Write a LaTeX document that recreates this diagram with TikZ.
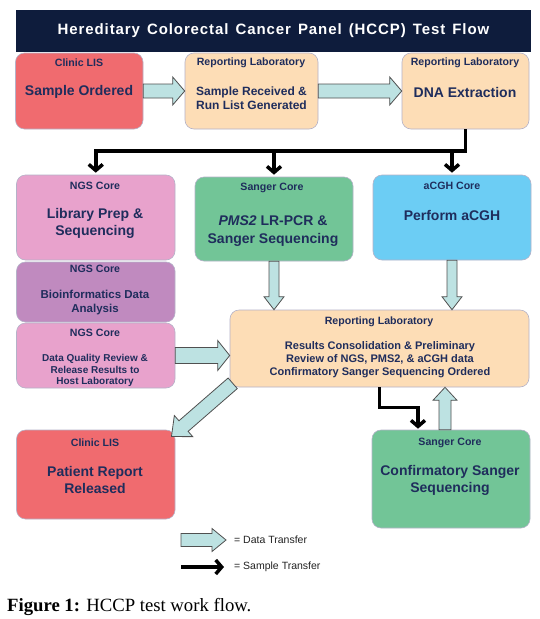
\documentclass[tikz,border=0pt]{standalone}
\usepackage{fontspec}
\setmainfont{Liberation Sans}
\newfontfamily\capfont{Liberation Serif}
\newfontfamily\titlefont[LetterSpace=6,WordSpace=1.4]{Liberation Sans}
\usetikzlibrary{calc,arrows.meta}
\definecolor{navy}{HTML}{1F2D5C}
\definecolor{titlebg}{HTML}{0E1C3C}
\definecolor{clinicred}{HTML}{F06B6F}
\definecolor{peach}{HTML}{FDDDB6}
\definecolor{ngspink}{HTML}{E8A2CC}
\definecolor{ngspurple}{HTML}{C08ABF}
\definecolor{sangergreen}{HTML}{72C597}
\definecolor{acghblue}{HTML}{6CCDF4}
\definecolor{boxline}{HTML}{B4B2C8}
\definecolor{arrowfill}{HTML}{BDE2E2}
\definecolor{arrowline}{HTML}{505050}
\definecolor{legendtext}{HTML}{222222}
\tikzset{
  box/.style={draw=boxline, line width=0.6pt, rounded corners=9pt, inner sep=0pt},
  hdr/.style={text=navy, font=\fontsize{10.6}{12}\selectfont\bfseries, inner sep=0pt},
  ttl/.style={text=navy, font=\fontsize{14}{17}\selectfont\bfseries, align=center, inner sep=0pt},
  sampleflow/.style={line width=3.5pt, line join=miter, -{Straight Barb[length=6pt,width=14pt]}},
  dataflow/.style={draw=arrowline, fill=arrowfill, line width=0.8pt, line join=miter},
}
\newcommand\blockarrow[5]{%
  \path #4; \pgfgetlastxy{\bax}{\bay}%
  \path #5; \pgfgetlastxy{\bbx}{\bby}%
  \pgfmathsetmacro\baang{atan2(\bby-\bay,\bbx-\bax)}%
  \pgfmathsetmacro\balen{veclen(\bbx-\bax,\bby-\bay)}%
  \draw[dataflow, shift={(\bax,\bay)}, rotate=\baang]
    (0pt,#1pt) -- (\balen pt-#3pt,#1pt) -- (\balen pt-#3pt,#2pt) -- (\balen pt,0pt)
    -- (\balen pt-#3pt,-#2pt) -- (\balen pt-#3pt,-#1pt) -- (0pt,-#1pt) -- cycle;%
}
\begin{document}
\begin{tikzpicture}[x=1pt,y=-1pt]
\fill[white] (0,0) rectangle (540,619);
\useasboundingbox (0,0) rectangle (540,619);

% title bar
\node[fill=titlebg, minimum width=515.5pt, minimum height=42pt, inner sep=0pt] (title) at (273.25,31) {};
\node[text=white, font=\titlefont\fontsize{15}{17}\selectfont\bfseries, inner sep=0pt] (titletext) at (273.5,31) {Hereditary Colorectal Cancer Panel (HCCP) Test Flow};

% row 1
\node[box, fill=clinicred, minimum width=127.5pt, minimum height=76pt] (clinic) at (79.25,91) {};
\node[hdr] (clinichdr) at (79,63) {Clinic LIS};
\node[ttl] (clinicttl) at (79,92) {Sample Ordered};

\node[box, fill=peach, minimum width=133pt, minimum height=76pt] (rl1) at (251.5,91) {};
\node[hdr] (rl1hdr) at (251,63) {Reporting Laboratory};
\node[ttl, align=left, font=\fontsize{12}{14}\selectfont\bfseries] (rl1ttl) at (251.5,98) {Sample Received \&\\Run List Generated};

\node[box, fill=peach, minimum width=127pt, minimum height=76pt] (dna) at (465.5,91) {};
\node[hdr] (dnahdr) at (465,63) {Reporting Laboratory};
\node[ttl] (dnattl) at (465,92) {DNA Extraction};

% row 2
\node[box, fill=ngspink, minimum width=158.5pt, minimum height=85pt] (ngs1) at (95.75,217.5) {};
\node[hdr] (ngs1hdr) at (95,186) {NGS Core};
\node[ttl] (ngs1ttl) at (95,223.5) {Library Prep \&\\Sequencing};

\node[box, fill=sangergreen, minimum width=158pt, minimum height=84pt] (sanger) at (274,219) {};
\node[hdr] (sangerhdr) at (272,188) {Sanger Core};
\node[ttl, font=\fontsize{14}{18}\selectfont\bfseries] (sangerttl) at (273,231) {\textit{PMS2} LR-PCR \&\\Sanger Sequencing};

\node[box, fill=acghblue, minimum width=158pt, minimum height=85pt] (acgh) at (452,217.5) {};
\node[hdr] (acghhdr) at (452,186) {aCGH Core};
\node[ttl] (acghttl) at (452,215) {Perform aCGH};

\node[box, fill=ngspurple, minimum width=158.5pt, minimum height=60pt] (ngs2) at (95.75,292) {};
\node[hdr] (ngs2hdr) at (95,269) {NGS Core};
\node[ttl, font=\fontsize{11.5}{14}\selectfont\bfseries] (ngs2ttl) at (95,303) {Bioinformatics Data\\Analysis};

\node[box, fill=ngspink, minimum width=158.5pt, minimum height=65pt] (ngs3) at (95.75,355.5) {};
\node[hdr] (ngs3hdr) at (95,333) {NGS Core};
\node[ttl, font=\fontsize{10}{11.5}\selectfont\bfseries] (ngs3ttl) at (95,370.5) {Data Quality Review \&\\Release Results to\\Host Laboratory};

\node[box, fill=peach, minimum width=299pt, minimum height=77pt] (rl2) at (379.5,348.5) {};
\node[hdr] (rl2hdr) at (379,322) {Reporting Laboratory};
\node[ttl, font=\fontsize{11}{13}\selectfont\bfseries] (rl2ttl) at (380,360) {Results Consolidation \& Preliminary\\Review of NGS, PMS2, \& aCGH data\\Confirmatory Sanger Sequencing Ordered};

\node[box, fill=clinicred, minimum width=158.5pt, minimum height=89pt] (patient) at (95.75,474.5) {};
\node[hdr] (patienthdr) at (95,443) {Clinic LIS};
\node[ttl] (patientttl) at (95,479.5) {Patient Report\\Released};

\node[box, fill=sangergreen, minimum width=158pt, minimum height=98pt] (confirm) at (451,479) {};
\node[hdr] (confirmhdr) at (450,443) {Sanger Core};
\node[ttl] (confirmttl) at (450,480) {Confirmatory Sanger\\Sequencing};

% sample transfer (black)
\coordinate (bus) at (0,151);
\draw[sampleflow, shorten >=2pt] (dna.south) |- (ngs1.north |- bus) -- (ngs1.north);
\draw[sampleflow, shorten >=2pt] (sanger.north |- bus) -- (sanger.north);
\draw[sampleflow, shorten >=2pt] (acgh.north |- bus) -- (acgh.north);
\draw[sampleflow, shorten >=1pt] (rl2.south) |- ($(confirm.north)+(-33,-22)$) -- ($(confirm.north)+(-33,0)$);

% data transfer (block arrows)
\blockarrow{7}{14}{12}{(clinic.east)}{(rl1.west)}
\blockarrow{7}{14}{12}{(rl1.east)}{(dna.west)}
\blockarrow{5}{10}{13}{(sanger.south)}{(sanger.south |- rl2.north)}
\blockarrow{5}{10}{13}{(acgh.south)}{(acgh.south |- rl2.north)}
\blockarrow{8}{15}{12}{(ngs3.east)}{(ngs3.east -| rl2.west)}
\blockarrow{7}{14}{16}{($(rl2.south west)+(3,-4)$)}{($(patient.north east)+(-4,7)$)}
\blockarrow{6}{12}{13}{($(confirm.north)+(-6,0)$)}{($(rl2.south)+(65.5,0)$)}

% legend
\coordinate (lgA) at (181,540);
\coordinate (lgB) at (226,540);
\coordinate (lgC) at (181,567);
\coordinate (lgD) at (224,567);
\blockarrow{6.5}{11.5}{14}{(lgA)}{(lgB)}
\draw[sampleflow] (lgC) -- (lgD);
\node[anchor=west, inner sep=0pt, text=legendtext, font=\fontsize{10.5}{12}\selectfont] (lgtext1) at (234,540) {= Data Transfer};
\node[anchor=west, inner sep=0pt, text=legendtext, font=\fontsize{10.5}{12}\selectfont] (lgtext2) at (234,567) {= Sample Transfer};

% caption
\node[anchor=west, inner sep=0pt, font=\capfont\fontsize{18.7}{21}\selectfont] (caption) at (7,607) {\textbf{Figure 1:} HCCP test work flow.};
\end{tikzpicture}
\end{document}
